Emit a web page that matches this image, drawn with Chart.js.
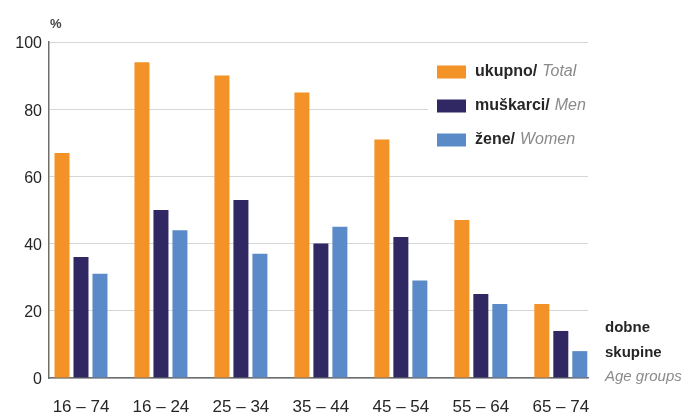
<!DOCTYPE html>
<html>
<head>
<meta charset="utf-8">
<script src="https://cdn.jsdelivr.net/npm/chart.js@4/dist/chart.umd.min.js"></script>
<style>
    body { margin: 0; background: #fff; }
    #wrap { width: 687px; height: 415px; position: relative; }
</style>
</head>
<body>
<div id="wrap"><canvas id="ageChart"></canvas></div>
<script>
// Dobne skupine / age groups
var categories = ['16 – 74', '16 – 24', '25 – 34', '35 – 44', '45 – 54', '55 – 64', '65 – 74'];

// Vrijednosti u % (očitano sa slike)
var totalValues = [67, 94, 90, 85, 71, 47, 22];
var menValues   = [36, 50, 53, 40, 42, 25, 14];
var womenValues = [31, 44, 37, 45, 29, 22, 8];

var seriesHr = ['ukupno/', 'muškarci/', 'žene/'];
var seriesEn = ['Total', 'Men', 'Women'];
var seriesColors = ['#f39226', '#2f2862', '#5a8bc8'];

var yTicks = [0, 20, 40, 60, 80, 100];
var axisHr = ['dobne', 'skupine'];
var axisEn = 'Age groups';

var FONT = "'Liberation Sans', Arial, sans-serif";

function toPoints(values) {
    return values.map(function(v, i) { return { x: i, y: v }; });
}

// Legenda i oznake osi s mješovitim stilom (podebljano + kurziv)
var textPlugin = {
    id: 'textPlugin',
    afterDraw: function(chart) {
        var ctx = chart.ctx;
        var area = chart.chartArea;
        ctx.save();

        // bijela podloga legende preko linija mreže
        ctx.fillStyle = '#ffffff';
        ctx.fillRect(area.right - 160, area.top + 12, 170, 116);

        var boxX = area.right - 151;
        ctx.textBaseline = 'middle';
        ctx.textAlign = 'left';
        for (var i = 0; i < seriesHr.length; i++) {
            var y = area.top + 30 + i * 34;
            ctx.fillStyle = seriesColors[i];
            ctx.fillRect(boxX, y - 6.5, 29, 13);
            ctx.font = 'bold 16px ' + FONT;
            ctx.fillStyle = '#262626';
            ctx.fillText(seriesHr[i], boxX + 38, y);
            var w = ctx.measureText(seriesHr[i]).width;
            ctx.font = 'italic 16px ' + FONT;
            ctx.fillStyle = '#8a8a8a';
            ctx.fillText(seriesEn[i], boxX + 38 + w + 5, y);
        }

        // naziv osi x
        var tx = area.right + 17;
        ctx.font = 'bold 15px ' + FONT;
        ctx.fillStyle = '#262626';
        ctx.fillText(axisHr[0], tx, area.bottom - 50);
        ctx.fillText(axisHr[1], tx, area.bottom - 25);
        ctx.font = 'italic 15px ' + FONT;
        ctx.fillStyle = '#8a8a8a';
        ctx.fillText(axisEn, tx, area.bottom - 1);

        // oznaka jedinice
        ctx.font = 'bold 13px ' + FONT;
        ctx.fillStyle = '#444';
        ctx.fillText('%', area.left + 1, area.top - 18);

        ctx.restore();
    }
};

var ctx = document.getElementById('ageChart').getContext('2d');
new Chart(ctx, {
    type: 'bar',
    data: {
        datasets: [
            { label: seriesEn[0], data: toPoints(totalValues), backgroundColor: seriesColors[0] },
            { label: seriesEn[1], data: toPoints(menValues), backgroundColor: seriesColors[1] },
            { label: seriesEn[2], data: toPoints(womenValues), backgroundColor: seriesColors[2] }
        ]
    },
    options: {
        responsive: true,
        maintainAspectRatio: false,
        animation: false,
        layout: { padding: { left: 0, right: 99, top: 42, bottom: 0 } },
        datasets: {
            bar: { categoryPercentage: 0.7125, barPercentage: 0.79 }
        },
        plugins: {
            legend: { display: false },
            tooltip: { enabled: false }
        },
        scales: {
            x: {
                type: 'linear',
                offset: false,
                min: -0.4,
                max: 6.34,
                afterBuildTicks: function(axis) {
                    axis.ticks = categories.map(function(c, i) { return { value: i }; });
                },
                afterFit: function(axis) { axis.height = 37; },
                grid: { display: false, drawTicks: false, offset: false },
                border: { display: true, color: '#6e6e6e', width: 1.5 },
                ticks: {
                    padding: 19,
                    color: '#262626',
                    font: { family: FONT, size: 17 },
                    callback: function(v) { return categories[v]; }
                }
            },
            y: {
                min: 0,
                max: 100,
                afterBuildTicks: function(axis) {
                    axis.ticks = yTicks.map(function(v) { return { value: v }; });
                },
                afterFit: function(axis) { axis.width = 49; },
                grid: { color: '#d6d6d6', lineWidth: 1, drawTicks: false },
                border: { display: true, color: '#6e6e6e', width: 1.5 },
                ticks: {
                    padding: 7,
                    labelOffset: 2,
                    color: '#262626',
                    font: { family: FONT, size: 16 }
                }
            }
        }
    },
    plugins: [textPlugin]
});
</script>
</body>
</html>
